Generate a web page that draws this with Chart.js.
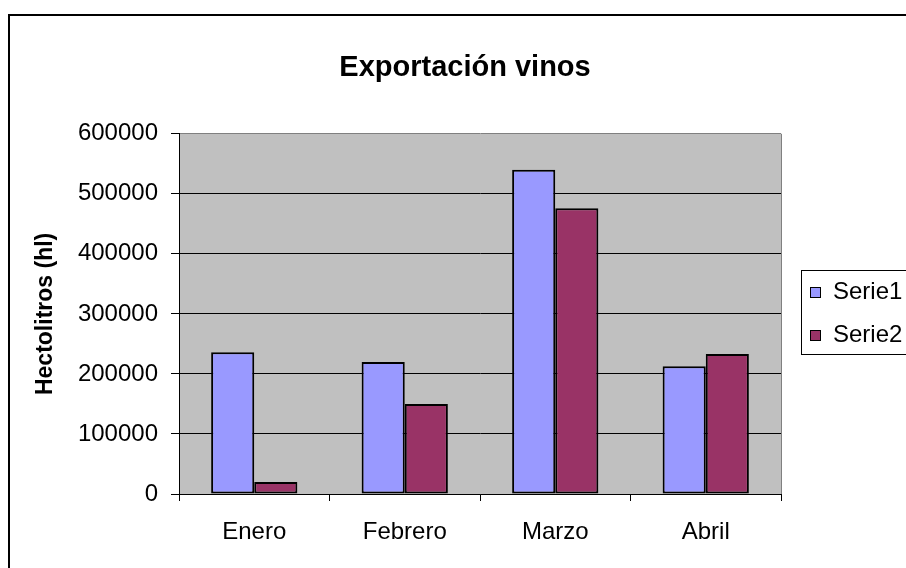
<!DOCTYPE html>
<html>
<head>
<meta charset="utf-8">
<script src="https://cdn.jsdelivr.net/npm/chart.js@4.4.0/dist/chart.umd.min.js"></script>
<style>
  html, body { margin: 0; padding: 0; background: #fff; }
  #wrap { width: 906px; height: 568px; }
</style>
</head>
<body>
<div id="wrap"><canvas id="grafico"></canvas></div>
<script>
// --- Datos del gráfico ---
const categorias = ['Enero', 'Febrero', 'Marzo', 'Abril'];
const serie1 = [236000, 220000, 540000, 213000];
const serie2 = [20000, 150000, 476000, 233000];
const nombresSeries = ['Serie1', 'Serie2'];
const ticksY = [0, 100000, 200000, 300000, 400000, 500000, 600000];

const FUENTE = "'Liberation Sans', Arial, sans-serif";

// fondo, marco exterior, zona gris y leyenda a la derecha
const decoracion = {
    id: 'decoracion',
    beforeDraw(chart) {
        const { ctx, chartArea: a } = chart;
        ctx.save();
        ctx.fillStyle = '#fff';
        ctx.fillRect(0, 0, chart.width, chart.height);
        ctx.fillStyle = '#c0c0c0';
        ctx.fillRect(a.left, a.top, a.right - a.left, a.bottom - a.top);
        ctx.restore();
    },
    afterDraw(chart) {
        const { ctx, chartArea: a } = chart;
        ctx.save();
        // borde derecho gris del área de trazado
        ctx.strokeStyle = '#808080';
        ctx.lineWidth = 1;
        ctx.beginPath();
        ctx.moveTo(a.right + 0.5, a.top);
        ctx.lineTo(a.right + 0.5, a.bottom);
        ctx.stroke();

        // marco del gráfico
        ctx.strokeStyle = '#000';
        ctx.lineWidth = 2;
        ctx.strokeRect(9, 15, 1000, 1000);

        // leyenda
        ctx.lineWidth = 1;
        ctx.strokeStyle = '#000';
        ctx.strokeRect(801.5, 270.5, 200, 84);
        ctx.font = '24px ' + FUENTE;
        ctx.textBaseline = 'middle';
        chart.data.datasets.forEach((ds, i) => {
            const y = 292 + i * 43;
            ctx.fillStyle = ds.backgroundColor;
            ctx.fillRect(810, y - 5, 10, 10);
            ctx.strokeRect(810.5, y - 4.5, 10, 10);
            ctx.fillStyle = '#000';
            ctx.fillText(ds.label, 833, y);
        });
        ctx.restore();
    }
};

new Chart(document.getElementById('grafico'), {
    type: 'bar',
    data: {
        labels: categorias,
        datasets: [
            {
                label: nombresSeries[0],
                data: serie1,
                backgroundColor: '#9999ff',
                borderColor: '#000',
                borderWidth: 2,
                borderSkipped: false
            },
            {
                label: nombresSeries[1],
                data: serie2,
                backgroundColor: '#993366',
                borderColor: '#000',
                borderWidth: 2,
                borderSkipped: false
            }
        ]
    },
    options: {
        responsive: true,
        maintainAspectRatio: false,
        animation: false,
        layout: { padding: { left: 24, top: 0, right: 0, bottom: 0 } },
        datasets: {
            bar: { categoryPercentage: 0.573, barPercentage: 1.0 }
        },
        plugins: {
            legend: { display: false },
            tooltip: { enabled: false },
            title: {
                display: true,
                text: 'Exportación vinos',
                color: '#000',
                font: { family: FUENTE, size: 29, weight: 'bold' },
                padding: { top: 51, bottom: 48 }
            }
        },
        scales: {
            x: {
                grid: {
                    drawOnChartArea: false,
                    drawTicks: true,
                    tickLength: 7,
                    tickColor: '#000'
                },
                border: { color: '#000', width: 1 },
                ticks: {
                    color: '#000',
                    padding: 17,
                    font: { family: FUENTE, size: 24 }
                },
                afterFit(scale) { scale.height = 74; }
            },
            y: {
                min: 0,
                max: 600000,
                afterBuildTicks(scale) {
                    scale.ticks = ticksY.map(v => ({ value: v }));
                },
                grid: {
                    color: c => (c.tick && c.tick.value === 600000) ? '#808080' : '#000',
                    tickColor: '#000',
                    tickLength: 8,
                    lineWidth: 1
                },
                border: { color: '#000', width: 1 },
                ticks: {
                    color: '#000',
                    padding: 13,
                    font: { family: FUENTE, size: 24 },
                    callback: v => String(v)
                },
                title: {
                    display: true,
                    text: 'Hectolitros (hl)',
                    color: '#000',
                    font: { family: FUENTE, size: 23, weight: 'bold' },
                    padding: { top: 8, bottom: 0 }
                },
                afterFit(scale) { scale.width = 155; }
            },
            // eje vacío que reserva el hueco de la leyenda
            hueco: {
                position: 'right',
                display: true,
                grid: { display: false, drawTicks: false },
                border: { display: false },
                ticks: { display: false },
                afterFit(scale) { scale.width = 125; }
            }
        }
    },
    plugins: [decoracion]
});
</script>
</body>
</html>
